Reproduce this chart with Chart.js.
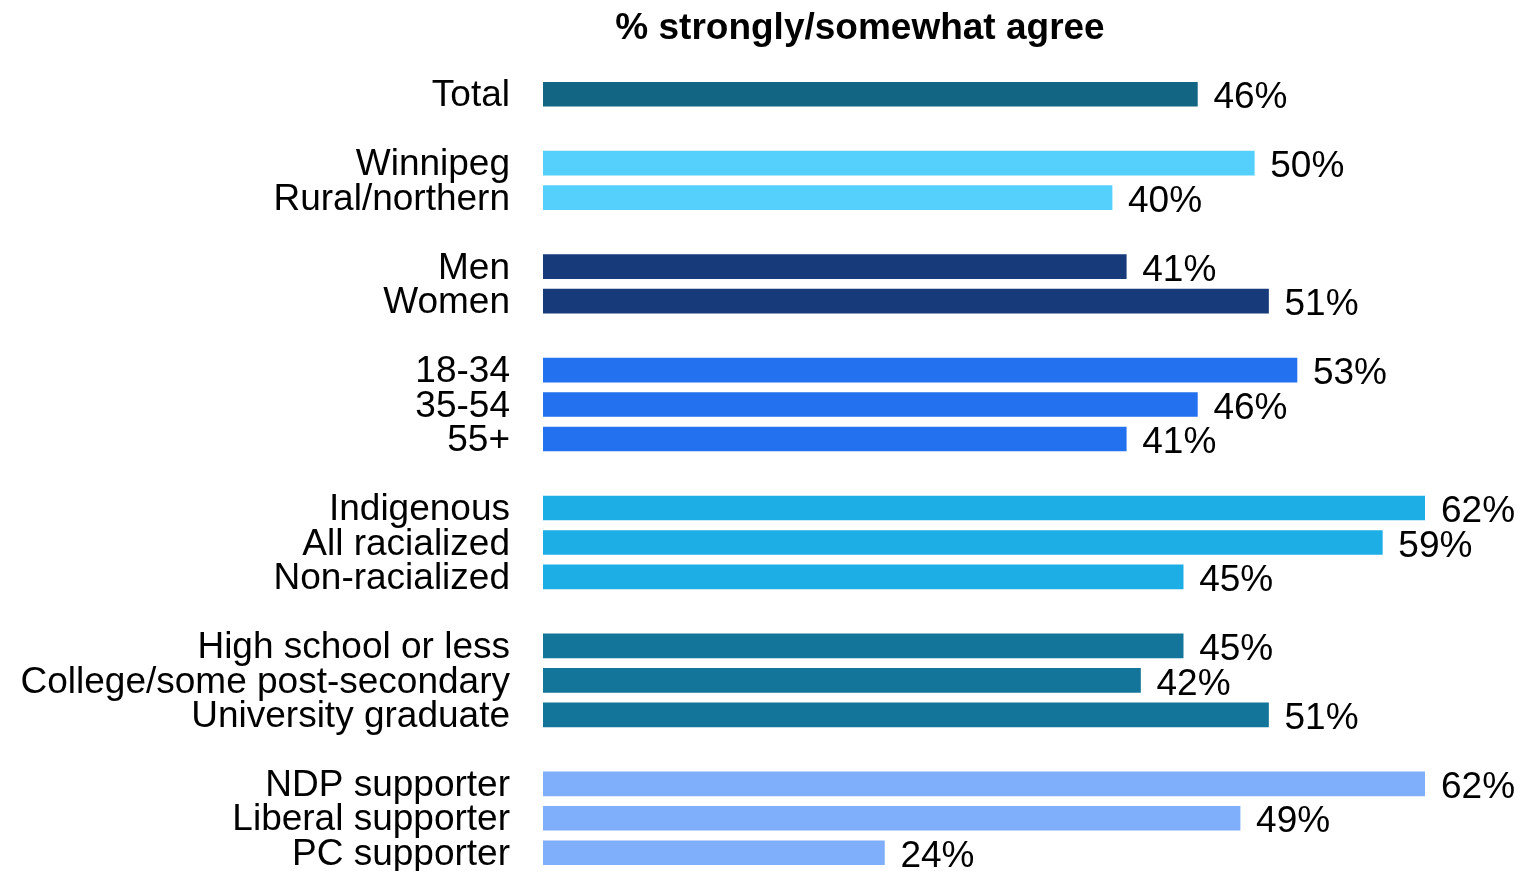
<!DOCTYPE html>
<html>
<head>
<meta charset="utf-8">
<script src="https://cdn.jsdelivr.net/npm/chart.js@4/dist/chart.umd.min.js"></script>
<style>
  html, body { margin: 0; padding: 0; background: #fff; overflow: hidden; }
  canvas { display: block; }
</style>
</head>
<body>
<canvas id="agree" width="1520" height="871"></canvas>
<script>
const title = "% strongly/somewhat agree";

// blank entries are the gaps between groups
const categories = [
  "Total", "",
  "Winnipeg", "Rural/northern", "",
  "Men", "Women", "",
  "18-34", "35-54", "55+", "",
  "Indigenous", "All racialized", "Non-racialized", "",
  "High school or less", "College/some post-secondary", "University graduate", "",
  "NDP supporter", "Liberal supporter", "PC supporter"
];
const values = [
  46, null,
  50, 40, null,
  41, 51, null,
  53, 46, 41, null,
  62, 59, 45, null,
  45, 42, 51, null,
  62, 49, 24
];
const groupColors = {
  total: "#136683",
  region: "#55CFFB",
  gender: "#163A7A",
  age: "#2371EE",
  ethnicity: "#1CAEE4",
  education: "#137599",
  party: "#7FAEFB"
};
const rowGroup = [
  "total", null,
  "region", "region", null,
  "gender", "gender", null,
  "age", "age", "age", null,
  "ethnicity", "ethnicity", "ethnicity", null,
  "education", "education", "education", null,
  "party", "party", "party"
];

const font = "'Liberation Sans', Arial, sans-serif";

const valueLabels = {
  id: "valueLabels",
  afterDatasetsDraw(chart) {
    const ctx = chart.ctx;
    const meta = chart.getDatasetMeta(0);
    ctx.save();
    ctx.font = "37px " + font;
    ctx.fillStyle = "#000";
    ctx.textAlign = "left";
    ctx.textBaseline = "middle";
    meta.data.forEach((bar, i) => {
      if (values[i] == null) return;
      ctx.fillText(values[i] + "%", bar.x + 16, bar.y + 4);
    });
    ctx.restore();
  }
};

const titleDraw = {
  id: "titleDraw",
  afterDraw(chart) {
    const ctx = chart.ctx;
    ctx.save();
    ctx.font = "bold 37px " + font;
    ctx.fillStyle = "#000";
    ctx.textAlign = "center";
    ctx.textBaseline = "middle";
    ctx.fillText(title, 860, 29);
    ctx.restore();
  }
};

new Chart(document.getElementById("agree"), {
  type: "bar",
  data: {
    labels: categories,
    datasets: [
      {
        data: values,
        backgroundColor: rowGroup.map(g => g ? groupColors[g] : "transparent"),
        borderWidth: 0,
        barThickness: 24
      }
    ]
  },
  options: {
    indexAxis: "y",
    responsive: false,
    animation: false,
    layout: { padding: { top: 77, right: 95, bottom: 1, left: 0 } },
    scales: {
      x: {
        display: false,
        min: 0,
        max: 62
      },
      y: {
        grid: { display: false, drawTicks: false },
        border: { display: false },
        afterFit(scale) {
          scale.width = 543;
          scale.paddingTop = 0;
          scale.paddingBottom = 0;
        },
        ticks: {
          autoSkip: false,
          padding: 33,
          labelOffset: 2,
          color: "#000",
          font: { family: font, size: 37 }
        }
      }
    },
    plugins: {
      legend: { display: false },
      tooltip: { enabled: false }
    }
  },
  plugins: [valueLabels, titleDraw]
});
</script>
</body>
</html>
